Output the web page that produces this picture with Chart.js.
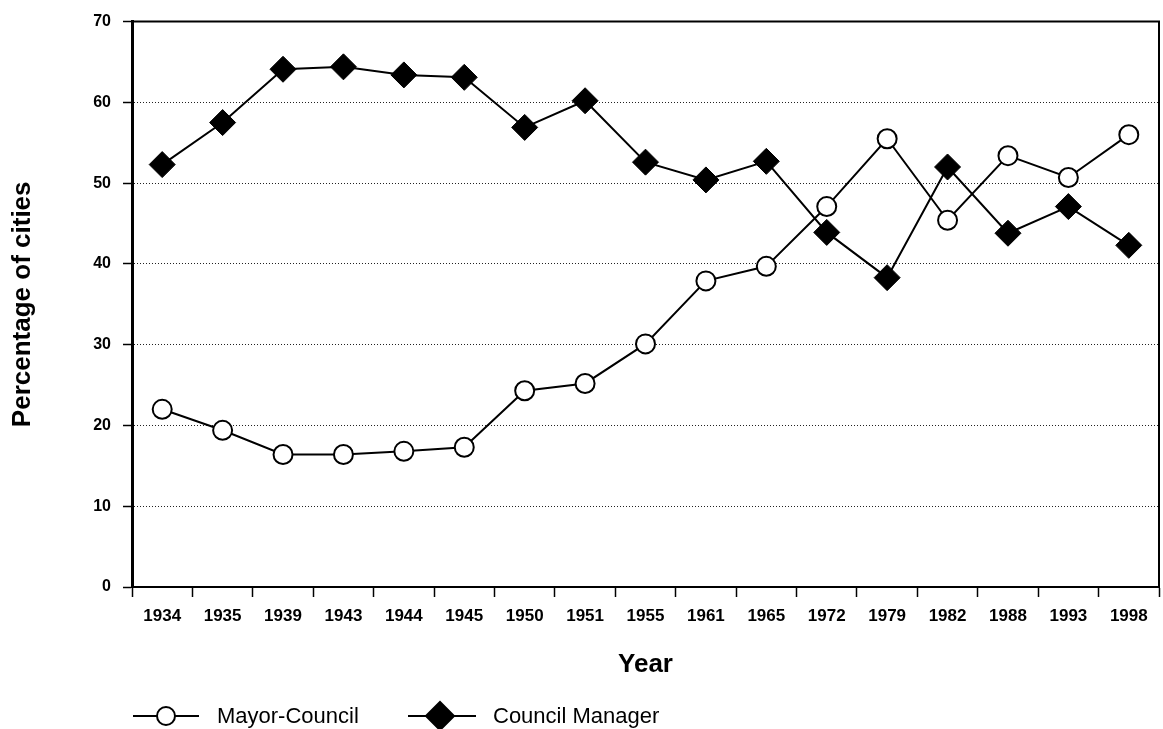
<!DOCTYPE html>
<html>
<head>
<meta charset="utf-8">
<script src="https://cdn.jsdelivr.net/npm/chart.js@4.4.1/dist/chart.umd.min.js"></script>
<style>
  html, body { margin: 0; padding: 0; background: #fff; }
  #chart { display: block; }
</style>
</head>
<body>
<canvas id="chart" width="1163" height="729"></canvas>
<script>
const years = ["1934", "1935", "1939", "1943", "1944", "1945", "1950", "1951", "1955",
  "1961", "1965", "1972", "1979", "1982", "1988", "1993", "1998"];
const mayorCouncil = [22.0, 19.4, 16.4, 16.4, 16.8, 17.3, 24.3, 25.2, 30.1,
  37.9, 39.7, 47.1, 55.5, 45.4, 53.4, 50.7, 56.0];
const councilManager = [52.3, 57.5, 64.1, 64.4, 63.4, 63.1, 56.9, 60.2, 52.6,
  50.4, 52.7, 43.9, 38.3, 52.0, 43.8, 47.1, 42.3];
const yTicks = [0, 10, 20, 30, 40, 50, 60, 70];

const FONT = "'Liberation Sans', Arial, Helvetica, sans-serif";
Chart.defaults.font.family = FONT;
Chart.defaults.color = "#000";

// frame on top and right side of the plot
const framePlugin = {
  id: "frame",
  afterDatasetsDraw(chart) {
    const { ctx, chartArea: a } = chart;
    ctx.save();
    ctx.strokeStyle = "#000";
    ctx.lineWidth = 2;
    ctx.beginPath();
    ctx.moveTo(a.left, a.top);
    ctx.lineTo(a.right, a.top);
    ctx.lineTo(a.right, a.bottom);
    ctx.stroke();
    ctx.restore();
  }
};

// legend under the chart: line through marker, then label
const legendPlugin = {
  id: "lineLegend",
  afterDraw(chart) {
    const ctx = chart.ctx;
    const y = 716;
    const items = [
      { x1: 133, x2: 199, mx: 166, textX: 217 },
      { x1: 408, x2: 476, mx: 440, textX: 493 }
    ];
    ctx.save();
    chart.data.datasets.forEach((ds, i) => {
      const it = items[i];
      ctx.strokeStyle = "#000";
      ctx.lineWidth = 2;
      ctx.beginPath();
      ctx.moveTo(it.x1, y);
      ctx.lineTo(it.x2, y);
      ctx.stroke();
      ctx.beginPath();
      if (ds.pointStyle === "rectRot") {
        const r = 14;
        ctx.moveTo(it.mx - r, y);
        ctx.lineTo(it.mx, y - r);
        ctx.lineTo(it.mx + r, y);
        ctx.lineTo(it.mx, y + r);
        ctx.closePath();
      } else {
        ctx.arc(it.mx, y, 9, 0, Math.PI * 2);
      }
      ctx.fillStyle = ds.pointBackgroundColor;
      ctx.fill();
      ctx.stroke();
      ctx.fillStyle = "#000";
      ctx.font = "22px " + FONT;
      ctx.textBaseline = "alphabetic";
      ctx.textAlign = "left";
      ctx.fillText(ds.label, it.textX, 722.5);
    });
    ctx.restore();
  }
};

new Chart(document.getElementById("chart"), {
  type: "line",
  data: {
    labels: years,
    datasets: [
      {
        label: "Mayor-Council",
        data: mayorCouncil,
        borderColor: "#000",
        borderWidth: 2,
        pointStyle: "circle",
        pointRadius: 9.5,
        pointBorderWidth: 2,
        pointBackgroundColor: "#fff",
        pointBorderColor: "#000",
        tension: 0
      },
      {
        label: "Council Manager",
        data: councilManager,
        borderColor: "#000",
        borderWidth: 2,
        pointStyle: "rectRot",
        pointRadius: 13,
        pointBorderWidth: 1,
        pointBackgroundColor: "#000",
        pointBorderColor: "#000",
        tension: 0
      }
    ]
  },
  options: {
    responsive: false,
    animation: false,
    devicePixelRatio: 1,
    layout: { autoPadding: false, padding: { top: 20, right: 4, left: 0, bottom: 0 } },
    plugins: {
      legend: { display: false },
      tooltip: { enabled: false }
    },
    scales: {
      x: {
        type: "category",
        offset: true,
        grid: {
          offset: true,
          drawOnChartArea: false,
          tickLength: 10,
          tickColor: "#000",
          tickWidth: 1.5
        },
        border: { color: "#000", width: 2 },
        ticks: {
          font: { size: 17, weight: "bold" },
          color: "#000",
          padding: 9,
          maxRotation: 0,
          autoSkip: false
        },
        title: {
          display: true,
          text: "Year",
          font: { size: 26, weight: "bold" },
          color: "#000",
          padding: { top: 0, bottom: 49 }
        },
        afterFit(scale) {
          scale.height = 142;
          scale.paddingLeft = 0;
          scale.paddingRight = 0;
        }
      },
      y: {
        min: 0,
        max: 70,
        afterBuildTicks(scale) { scale.ticks = yTicks.map(v => ({ value: v })); },
        grid: {
          color: "#222",
          lineWidth: 1,
          tickLength: 9,
          tickColor: "#000",
          tickWidth: 1.5,
          tickBorderDash: []
        },
        border: { color: "#000", width: 3, dash: [1, 2] },
        ticks: {
          font: { size: 16, weight: "bold" },
          color: "#000",
          padding: 12
        },
        title: {
          display: true,
          text: "Percentage of cities",
          font: { size: 26, weight: "bold" },
          color: "#000",
          padding: { top: 7, bottom: 0 }
        },
        afterFit(scale) { scale.width = 132; }
      }
    }
  },
  plugins: [framePlugin, legendPlugin]
});
</script>
</body>
</html>
